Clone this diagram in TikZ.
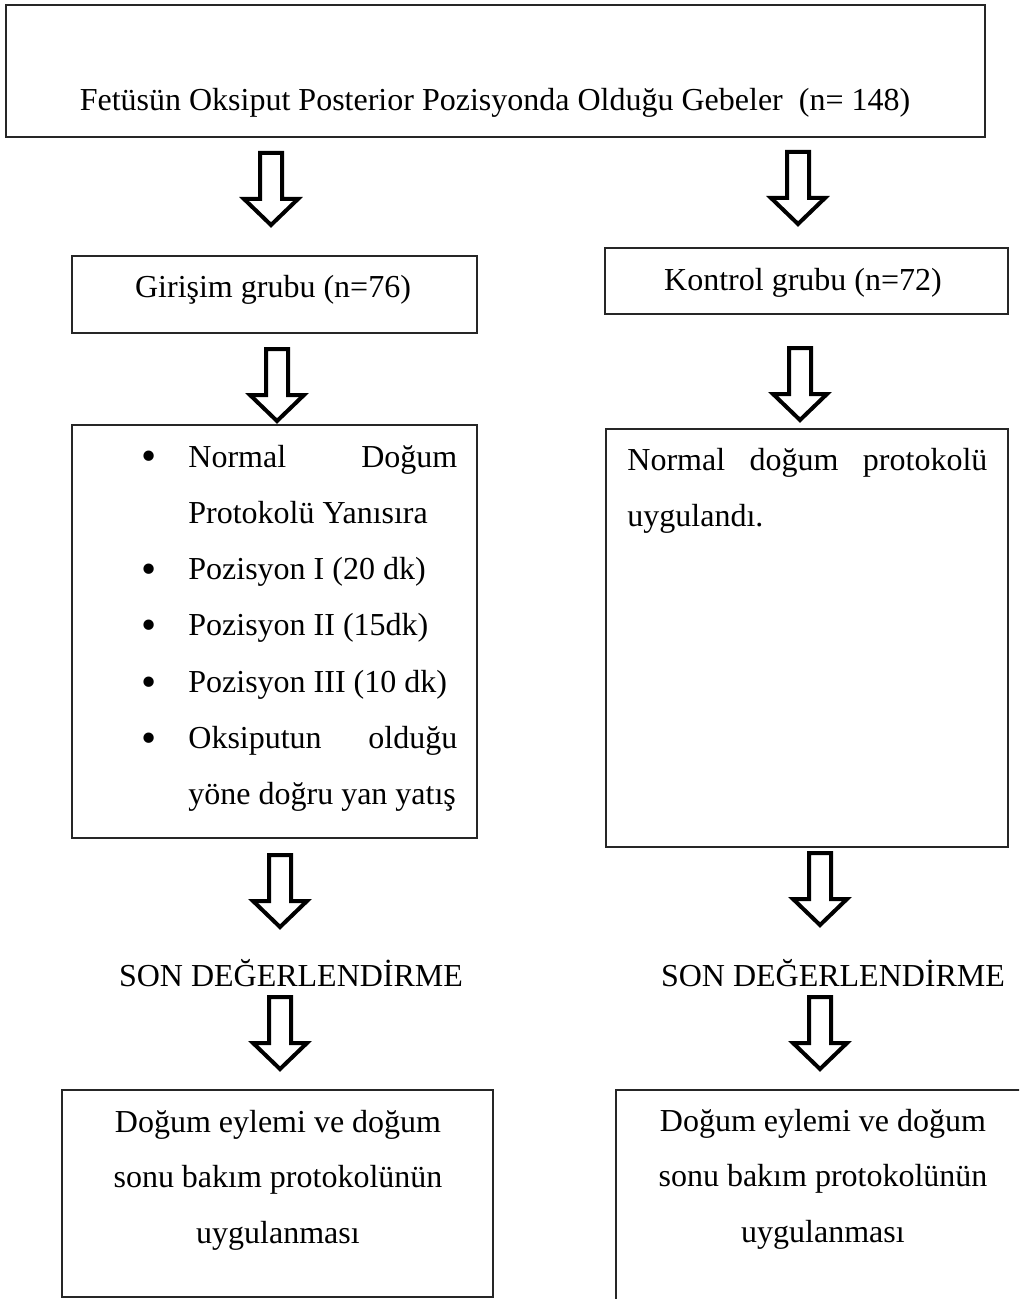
\documentclass[tikz,border=0pt]{standalone}
\usepackage{fontspec}
\usepackage{graphicx}
\setmainfont{Liberation Serif}

\newcommand{\madde}{\makebox[23.5pt][l]{\raisebox{-0.12em}{\scalebox{1.35}{\textbullet}}}}
\newcommand{\yasla}[1]{\makebox[134.5pt][s]{#1}}

\tikzset{
  box/.style={draw=black!85,line width=0.8pt,inner sep=0pt},
  txt/.style={font=\fontsize{16}{28.15}\selectfont,inner sep=0pt},
  liste/.style={font=\fontsize{16}{28.15}\selectfont},
  bakim/.style={font=\fontsize{16}{27.75}\selectfont},
  bigarrow/.pic={
    \draw[line width=2pt,fill=white]
      (-11,0) -- (11,0) -- (11,46) -- (27,46) -- (0,72) -- (-27,46) -- (-11,46) -- cycle;
  }
}

\begin{document}
\begin{tikzpicture}[x=0.5pt,y=-0.5pt]
  \clip (0,0) rectangle (1019,1299);

  % kutular
  \node[box,minimum width=489.5pt,minimum height=66pt] (gebeler) at (495.5,71) {};
  \node[box,minimum width=202.5pt,minimum height=38.5pt] (girisim) at (274.5,294.5) {};
  \node[box,minimum width=201.5pt,minimum height=33pt] (kontrol) at (806.5,281) {};
  \node[box,minimum width=202.5pt,minimum height=206.5pt] (girisimprot) at (274.5,631.5) {};
  \node[box,minimum width=201pt,minimum height=209pt] (kontrolprot) at (807,638) {};
  \node[box,minimum width=215.5pt,minimum height=103.5pt] (girisimsonuc) at (277.5,1193.5) {};
  \node[box,minimum width=212pt,minimum height=120pt] (kontrolsonuc) at (828,1210) {};

  % metinler
  \node[txt,anchor=base] (gebelertxt) at (495,111) {Fetüsün Oksiput Posterior Pozisyonda Olduğu Gebeler\ \ (n= 148)};
  \node[txt,anchor=base] (girisimtxt) at (273,298) {Girişim grubu (n=76)};
  \node[txt,anchor=base] (kontroltxt) at (803,291) {Kontrol grubu (n=72)};
  \node[txt,liste,text width=180pt,align=flush left,anchor=base west] (adimlar) at (141,467) {%
    \madde\yasla{Normal\hfill Doğum}\\
    \hspace*{23.5pt}Protokolü Yanısıra\\
    \madde Pozisyon I (20 dk)\\
    \madde Pozisyon II (15dk)\\
    \madde Pozisyon III (10 dk)\\
    \madde\yasla{Oksiputun\hfill olduğu}\\
    \hspace*{23.5pt}yöne doğru yan yatış};
  \node[txt,text width=190pt,align=flush left,anchor=base west] (normaltxt) at (627,470) {%
    \makebox[180pt][s]{Normal\hfill doğum\hfill protokolü}\\
    uygulandı.};
  \node[txt,anchor=base] (songirisim) at (291,986) {SON DEĞERLENDİRME};
  \node[txt,anchor=base] (sonkontrol) at (833,986) {SON DEĞERLENDİRME};
  \node[txt,bakim,text width=215pt,align=flush center,anchor=base] (bakimgirisim) at (278,1132)
    {Doğum eylemi ve doğum\\ sonu bakım protokolünün\\ uygulanması};
  \node[txt,bakim,text width=212pt,align=flush center,anchor=base] (bakimkontrol) at (823,1131)
    {Doğum eylemi ve doğum\\ sonu bakım protokolünün\\ uygulanması};

  % oklar
  \pic at (271,153) {bigarrow};
  \pic at (798,152) {bigarrow};
  \pic at (277,349) {bigarrow};
  \pic at (800,348) {bigarrow};
  \pic at (280,855) {bigarrow};
  \pic at (820,853) {bigarrow};
  \pic at (280,997) {bigarrow};
  \pic at (820,997) {bigarrow};
\end{tikzpicture}
\end{document}
